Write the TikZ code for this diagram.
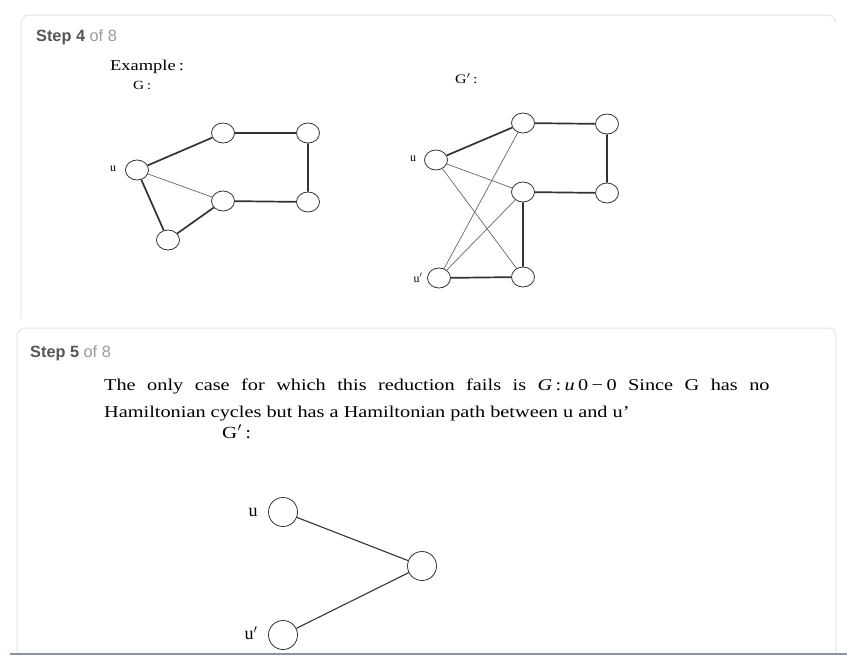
\documentclass[tikz,border=0pt]{standalone}
\usepackage{fontspec}
\usepackage{graphicx}
\setmainfont{Liberation Serif}
\newfontfamily\stepfont{Liberation Sans}
\usetikzlibrary{shapes.geometric}
\definecolor{stepdark}{HTML}{555555}
\definecolor{stepgray}{HTML}{9A9A9A}
\definecolor{panelgray}{HTML}{E4E4E4}
\definecolor{edgecol}{HTML}{333333}
\definecolor{barcol}{HTML}{8A949E}
\newcommand{\fsz}[1]{\fontsize{#1}{#1}\selectfont}
\newcommand{\wide}[1]{\scalebox{1.23}[1]{#1}}

\begin{document}
\begin{tikzpicture}
[x=1pt,y=-1pt,%
  every node/.style={inner sep=0pt},%
  vtx/.style={shape=ellipse,draw=edgecol,line width=0.8pt,minimum width=23pt,minimum height=20pt},%
  bigvtx/.style={shape=circle,draw=edgecol,line width=0.8pt,minimum size=29pt},%
  thickedge/.style={draw=edgecol,line width=1.7pt},%
  thinedge/.style={draw=edgecol!75,line width=0.7pt},%
  lbl/.style={font=\fsz{12}},%
  panel/.style={draw=panelgray,line width=1pt,rounded corners=8pt}]
\useasboundingbox (0,0) rectangle (847,662);
% panels
\draw[panel] (21,318) |- (836,15) -- (836,22);
\draw[panel] (17,653) |- (836,328) -- (836,653);
\draw[draw=barcol,line width=2pt] (10,654) -- (847,654);
% step 4
\node[anchor=base west] (step4) at (36,41)
  {\stepfont\fsz{16.3}\bfseries\color{stepdark}Step 4 \mdseries\color{stepgray}of 8};
\node[anchor=base west] (example) at (110,70) {\fsz{15}\wide{Example\,:}};
\node[anchor=base west] (gname) at (133,89) {\fsz{12.5}\wide{G\,:}};
\node[anchor=base west] (gpname) at (455,83) {\fsz{13}\wide{G$'$\,:}};
% G
\node[vtx] (gu) at (137,170) {};
\node[vtx] (ga) at (223,133) {};
\node[vtx] (gb) at (308,133) {};
\node[vtx] (gc) at (223,201) {};
\node[vtx] (gd) at (308,202) {};
\node[vtx] (ge) at (168,240) {};
\node[lbl] (gul) at (113,169) {u};
\draw[thickedge] (gu) -- (ga) -- (gb) -- (gd) -- (gc) -- (ge) -- (gu);
\draw[thinedge] (gu) -- (gc);
% G'
\node[vtx] (hu) at (436,160) {};
\node[vtx] (ha) at (523,123) {};
\node[vtx] (hb) at (607,124) {};
\node[vtx] (hc) at (523,192) {};
\node[vtx] (hd) at (607,193) {};
\node[vtx] (hv) at (439,278) {};
\node[vtx] (he) at (523,277) {};
\node[lbl] (hul) at (413,159) {u};
\node[lbl] (hvl) at (418,278) {u$'$};
\draw[thickedge] (hu) -- (ha) -- (hb) -- (hd) -- (hc) -- (he) -- (hv);
\draw[thinedge] (hu) -- (hc);
\draw[thinedge] (hu) -- (he);
\draw[thinedge] (hv) -- (ha);
\draw[thinedge] (hv) -- (hc);
% step 5
\node[anchor=base west] (step5) at (30,357)
  {\stepfont\fsz{16.3}\bfseries\color{stepdark}Step 5 \mdseries\color{stepgray}of 8};
\node[anchor=base west] (lineone) at (104,390)
  {\fsz{16.5}\wide{\makebox[541pt][s]{The only case for which this reduction fails is \textit{G}\,:\,\textit{u}\,0\,−\,0 Since G has no}}};
\node[anchor=base west] (linetwo) at (104,417)
  {\fsz{16.5}\wide{Hamiltonian cycles but has a Hamiltonian path between u and u\textquoteright}};
\node[anchor=base west] (kpname) at (222,438) {\fsz{17}\wide{G$'$\,:}};
% path u - w - u'
\node[bigvtx] (ku) at (283,512) {};
\node[bigvtx] (kw) at (422,566) {};
\node[bigvtx] (kv) at (283,635) {};
\node[font=\fsz{18}] (kul) at (253,512) {u};
\node[font=\fsz{18}] (kvl) at (251,633) {u$'$};
\draw[draw=edgecol,line width=1.1pt] (ku) -- (kw) -- (kv);
\end{tikzpicture}
\end{document}
